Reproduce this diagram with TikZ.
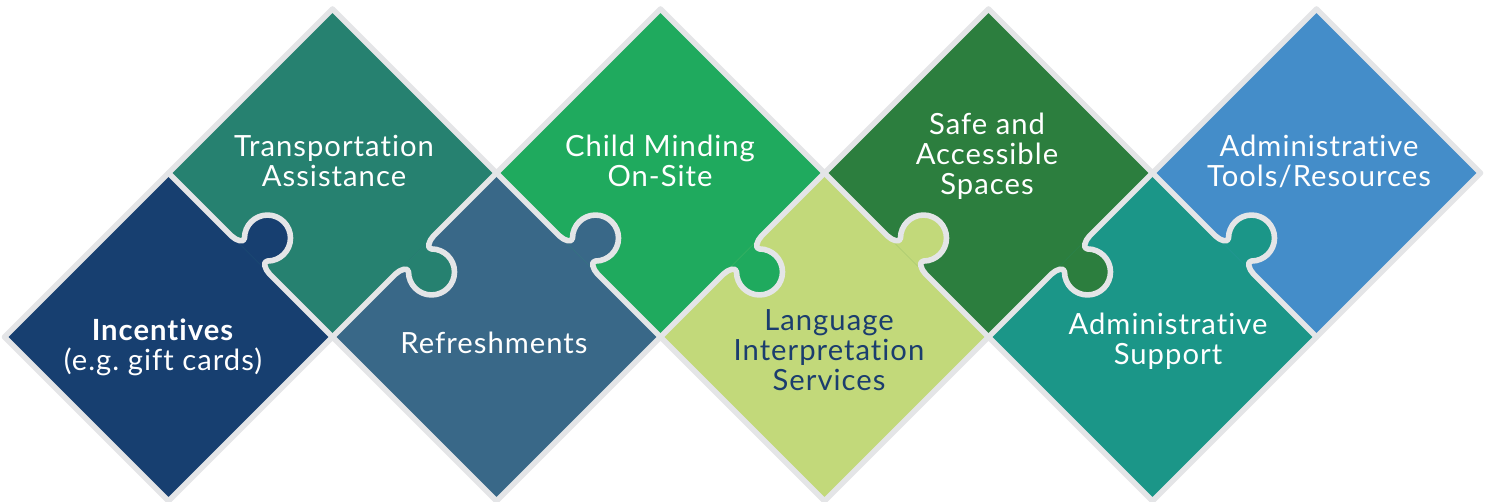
\documentclass[tikz,border=0pt]{standalone}
\usepackage{fontspec}
\setmainfont{Lato}[Ligatures=NoCommon,LetterSpace=3.5]
\frenchspacing
\definecolor{cNavy}{HTML}{173F70}
\definecolor{cTeal}{HTML}{268170}
\definecolor{cSlate}{HTML}{396888}
\definecolor{cGreen}{HTML}{1FAA5E}
\definecolor{cLime}{HTML}{C2D97A}
\definecolor{cForest}{HTML}{2C7E3E}
\definecolor{cSea}{HTML}{1B9688}
\definecolor{cBlue}{HTML}{448DC9}
\definecolor{cEdge}{HTML}{E4E5E7}
\definecolor{cInk}{HTML}{1B3D6E}
\tikzset{
  edgeline/.style={draw=cEdge,line width=2.8pt,line join=round,line cap=round},
  knobfill/.pic={\fill[#1] (89,0) .. controls (96,0) and (103.24,4.24) .. (99.74,7.74)
      arc[start angle=225,end angle=-45,radius=23]
      .. controls (128.76,4.24) and (136,0) .. (143,0) -- cycle;},
  knobline/.pic={\draw[edgeline] (0,0) -- (89,0) .. controls (96,0) and (103.24,4.24) .. (99.74,7.74)
      arc[start angle=225,end angle=-45,radius=23]
      .. controls (128.76,4.24) and (136,0) .. (143,0) -- (231.93,0);},
  lbl/.style={align=center,text=white,inner sep=0pt,font=\fontsize{14.6}{15}\selectfont}
}
\newcommand{\dia}[3]{\fill[#3] ({#1-164},#2) -- (#1,{#2+164}) -- ({#1+164},#2) -- (#1,{#2-164}) -- cycle;}
\begin{document}
\begin{tikzpicture}[x=0.5pt,y=0.5pt]
\useasboundingbox (0,0) rectangle (1489,-502);
% diamonds
\dia{168.5}{-337}{cNavy}
\dia{332.5}{-173}{cTeal}
\dia{496.5}{-337}{cSlate}
\dia{660.5}{-173}{cGreen}
\dia{824.5}{-337}{cLime}
\dia{988.5}{-173}{cForest}
\dia{1152.5}{-337}{cSea}
\dia{1316.5}{-173}{cBlue}
% knobs: bottom piece into top piece
\pic[rotate=-45] at (168.5,-173) {knobfill=cNavy};
\pic[rotate=-45] at (496.5,-173) {knobfill=cSlate};
\pic[rotate=-45] at (824.5,-173) {knobfill=cLime};
\pic[rotate=-45] at (1152.5,-173) {knobfill=cSea};
% knobs: top piece into next bottom piece
\pic[rotate=45,yscale=-1] at (332.5,-337) {knobfill=cTeal};
\pic[rotate=45,yscale=-1] at (660.5,-337) {knobfill=cGreen};
\pic[rotate=45,yscale=-1] at (988.5,-337) {knobfill=cForest};
% outer outline
\draw[edgeline] (4.5,-337) -- (332.5,-9) -- (496.5,-173) -- (660.5,-9) -- (824.5,-173)
  -- (988.5,-9) -- (1152.5,-173) -- (1316.5,-9) -- (1480.5,-173) -- (1316.5,-337)
  -- (1152.5,-501) -- (988.5,-337) -- (824.5,-501) -- (660.5,-337) -- (496.5,-501)
  -- (332.5,-337) -- (168.5,-501) -- cycle;
% inner seams
\pic[rotate=-45] at (168.5,-173) {knobline};
\pic[rotate=-45] at (496.5,-173) {knobline};
\pic[rotate=-45] at (824.5,-173) {knobline};
\pic[rotate=-45] at (1152.5,-173) {knobline};
\pic[rotate=45,yscale=-1] at (332.5,-337) {knobline};
\pic[rotate=45,yscale=-1] at (660.5,-337) {knobline};
\pic[rotate=45,yscale=-1] at (988.5,-337) {knobline};
% labels
\node[lbl] (inc) at (163,-347) {\textbf{Incentives}\\(e.g. gift cards)};
\node[lbl] (tra) at (334,-161) {Transportation\\Assistance};
\node[lbl] (ref) at (494,-343) {Refreshments};
\node[lbl] (chi) at (660,-161) {Child Minding\\On-Site};
\node[lbl,text=cInk] (lan) at (829,-350) {Language\\Interpretation\\Services};
\node[lbl] (saf) at (987,-156) {Safe and\\Accessible\\Spaces};
\node[lbl] (sup) at (1168,-341) {Administrative\\Support};
\node[lbl] (too) at (1319,-161) {Administrative\\Tools/Resources};
\end{tikzpicture}
\end{document}
